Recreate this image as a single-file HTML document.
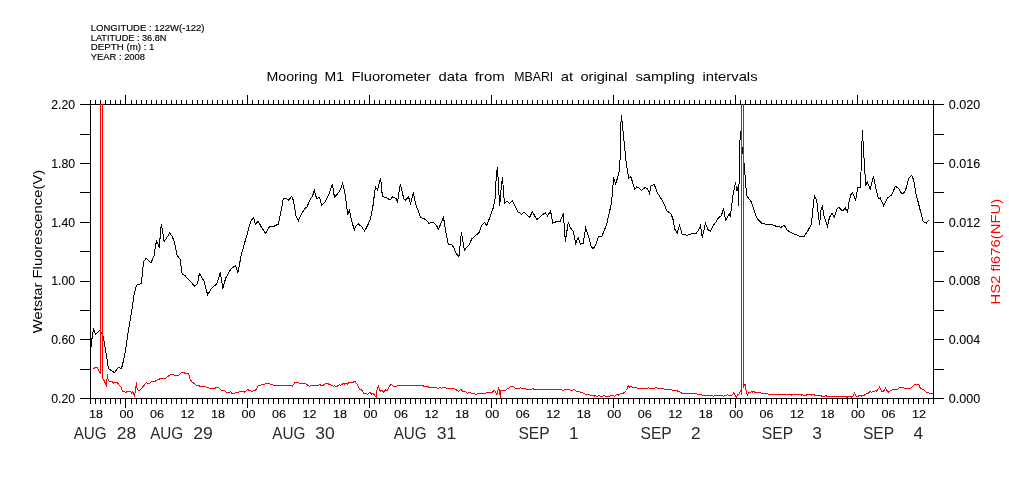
<!DOCTYPE html>
<html><head><meta charset="utf-8"><title>Mooring M1 Fluorometer data</title>
<style>html,body{margin:0;padding:0;background:#fff}svg{display:block}text{font-family:"Liberation Sans",sans-serif;}</style></head><body>
<svg width="1009" height="504" viewBox="0 0 1009 504">
<rect x="0" y="0" width="1009" height="504" fill="#fff"/>
<g shape-rendering="crispEdges">
<polyline points="91.0,347.9 91.5,339.7 92.3,337.8 93.4,328.3 95.5,334.1 100.1,330.2 103.3,336.5 108.5,368.6 114.4,372.7 118.3,367.5 121.5,368.6 124.7,355.6 127.9,334.1 133.4,300.0 134.3,293.3 136.7,285.0 141.4,283.4 143.5,261.5 146.2,258.3 151.0,262.8 154.1,256.0 155.6,245.2 156.6,241.2 159.4,247.5 160.6,230.1 161.3,224.1 162.5,230.9 164.1,241.6 169.7,233.1 172.1,236.4 174.4,241.6 177.1,255.2 180.0,259.1 182.2,274.2 185.1,275.8 189.8,280.9 194.6,286.1 197.5,283.7 199.4,273.4 204.1,281.3 207.6,294.8 211.3,288.5 216.8,284.0 220.3,272.6 222.9,288.8 225.6,278.2 231.1,268.7 235.6,265.5 237.8,272.9 241.4,254.4 245.4,240.1 247.5,233.3 250.6,221.3 253.5,217.4 255.4,224.0 258.3,221.3 261.7,227.7 265.7,233.3 268.1,228.5 270.5,226.1 274.4,226.1 278.4,224.0 280.8,212.6 283.2,198.7 286.3,198.3 288.7,200.2 291.6,196.4 293.5,200.7 295.9,215.8 298.3,220.9 301.4,214.2 304.6,208.7 307.0,207.1 309.4,200.7 312.5,196.0 314.4,190.4 316.5,198.3 319.7,197.5 321.7,205.5 325.2,201.8 329.2,193.6 332.4,183.7 334.4,197.1 339.5,191.7 342.7,183.3 344.6,191.2 346.7,206.3 347.8,215.0 349.4,209.4 351.4,219.8 354.3,230.1 356.2,225.3 358.6,224.0 361.7,226.9 364.6,230.9 367.3,226.1 370.5,219.0 372.9,206.3 374.8,191.2 375.7,187.2 377.6,190.1 380.3,178.5 381.1,182.5 382.4,196.7 386.3,197.5 390.0,200.2 392.7,196.7 395.9,198.3 397.5,201.9 400.3,184.4 403.8,198.7 405.4,200.3 408.6,197.1 410.6,203.8 413.3,192.4 415.7,204.6 418.1,210.2 420.5,217.3 426.0,219.7 428.9,223.2 433.2,222.1 436.3,225.2 438.4,229.2 443.5,217.3 445.9,232.4 448.3,244.3 451.4,244.3 453.8,247.5 456.2,253.8 459.0,256.5 461.4,232.4 464.4,250.6 466.5,247.5 468.9,245.4 471.7,239.0 475.2,235.9 479.2,232.4 481.6,225.2 484.4,222.5 486.7,225.2 490.3,216.5 493.5,207.0 495.6,195.9 496.2,175.4 497.5,167.1 498.7,189.7 499.7,205.6 501.0,189.7 502.5,177.0 503.8,196.0 504.6,203.2 507.0,201.1 509.4,203.2 512.5,201.1 515.2,206.3 518.1,211.9 521.6,214.3 524.4,212.2 529.5,217.5 532.4,211.6 536.8,219.8 541.1,215.9 545.1,212.7 547.5,215.9 550.6,211.1 552.7,223.3 556.2,221.7 560.2,221.1 563.3,213.5 565.4,241.6 568.3,221.7 570.2,227.3 573.3,231.6 575.7,243.2 578.1,237.6 580.5,244.0 583.2,243.2 585.7,228.4 588.4,236.0 591.1,246.3 593.2,248.7 595.6,244.8 598.4,236.8 601.6,236.8 604.3,230.5 607.0,223.3 609.0,213.8 611.4,203.5 612.7,190.0 613.5,177.5 615.7,183.8 618.9,173.5 620.2,157.6 620.6,129.0 621.4,115.1 622.5,125.9 624.1,141.7 626.5,165.6 628.9,178.3 631.0,176.7 632.9,183.8 634.8,189.4 636.7,186.7 639.0,187.8 641.4,190.5 645.4,187.3 647.8,189.4 649.5,193.3 651.0,186.2 654.1,184.1 657.3,192.5 663.7,202.9 666.8,211.1 670.5,213.2 672.7,217.9 674.8,229.0 677.1,233.3 679.5,225.4 682.2,234.3 687.5,235.4 692.2,233.3 695.9,233.8 698.6,229.8 700.6,225.4 702.2,237.5 705.4,223.5 708.1,229.8 710.5,231.1 712.9,225.9 716.0,221.9 718.7,217.5 721.3,215.9 723.5,208.4 725.6,220.3 729.2,214.0 730.3,217.1 732.7,196.8 735.6,182.2 736.7,191.0 737.8,187.0 738.7,206.0 739.5,149.8 740.5,130.9 741.2,143.8 742.4,148.8 743.8,160.7 745.4,179.5 746.6,195.4 751.4,202.0 753.3,207.6 755.7,215.6 758.1,219.5 761.6,223.2 766.8,224.3 772.4,224.8 777.1,226.6 781.1,227.2 784.3,225.3 787.1,230.1 791.4,232.9 795.4,234.5 800.2,236.4 804.1,236.4 807.3,231.7 811.3,224.5 812.9,209.4 814.4,195.5 816.8,200.7 817.9,211.0 819.5,224.5 821.1,209.4 822.4,206.3 824.0,215.8 827.5,226.1 829.5,217.4 831.9,213.4 834.3,217.1 836.7,209.4 839.0,207.1 842.2,211.0 845.4,208.2 847.5,212.3 849.4,199.9 851.0,194.4 852.5,192.8 855.7,200.2 857.6,188.0 860.5,187.2 861.0,172.1 862.4,129.8 864.0,157.9 865.2,177.0 865.6,186.4 867.1,181.7 870.3,189.1 873.5,176.4 875.6,187.2 878.3,198.3 880.3,198.0 883.5,205.5 887.5,198.0 891.4,195.2 895.4,186.4 898.3,188.0 901.7,193.6 904.1,192.8 906.2,188.0 908.4,179.0 911.6,175.3 913.7,180.1 916.0,193.6 920.0,209.4 923.2,221.3 926.3,223.4 928.7,219.8" fill="none" stroke="#000" stroke-width="1" />
<polyline points="93.1,368.8 95.1,367.6 97.5,367.9 100.5,373.8 100.5,104.0" fill="none" stroke="#f00" stroke-width="1" />
<polyline points="102.5,104.0 102.6,378.6 104.6,381.5 106.4,385.5 107.4,374.4 108.2,379.8 110.0,381.9 111.4,381.2 113.6,383.1 115.4,382.1 117.1,382.1 119.5,385.7 121.3,387.5 122.5,391.1 125.5,392.3 128.5,391.4 130.8,391.4 131.7,393.5 132.6,391.7 134.4,395.5 135.6,391.1 136.4,382.1 137.1,388.7 138.6,390.7 140.4,389.9 143.3,386.3 146.3,382.4 148.1,383.6 149.9,383.3 151.7,381.5 155.2,381.2 157.6,379.5 161.2,378.6 166.0,378.0 169.5,375.2 171.9,374.4 174.9,375.4 178.5,375.2 180.8,373.2 183.2,372.0 185.6,373.8 188.6,373.2 189.8,378.6 192.1,382.1 196.3,385.1 200.5,386.3 205.4,386.3 206.5,387.5 208.3,387.5 209.5,388.5 214.9,388.5 216.1,387.1 218.5,387.1 221.4,390.5 224.4,390.5 226.8,392.5 229.2,392.5 230.4,391.4 232.1,393.5 234.5,393.5 235.7,392.5 238.7,392.5 239.9,391.4 244.0,391.4 245.0,392.3 247.6,389.3 248.8,390.5 250.6,390.5 251.8,391.4 255.4,390.5 258.3,385.5 260.7,385.5 261.9,384.5 264.3,384.5 265.2,383.6 269.0,383.6 270.8,384.5 272.6,384.5 273.8,385.5 291.1,385.5 292.3,386.3 295.2,382.4 298.2,382.4 300.0,383.6 305.4,383.6 308.3,385.5 309.5,386.3 310.7,385.5 318.5,385.5 320.0,384.5 321.0,385.5 322.7,385.5 325.7,383.3 327.5,383.3 329.3,384.5 332.3,385.5 333.5,386.3 334.6,385.5 335.2,386.3 337.0,386.3 339.4,384.5 340.6,385.5 343.6,383.3 344.8,384.3 346.5,383.3 347.7,384.3 348.9,382.4 351.9,382.4 352.9,383.1 353.7,381.3 354.9,381.3 357.9,385.5 359.6,389.3 361.4,389.5 363.8,393.1 366.8,393.5 367.6,394.4 369.8,392.3 371.5,394.0 373.3,393.5 375.7,397.0 376.7,397.4 377.1,388.1 378.3,386.3 380.2,391.1 382.3,390.5 383.5,392.3 385.8,389.5 387.0,391.1 389.4,386.3 391.4,384.3 393.3,386.3 396.5,386.3 397.4,385.5 422.7,385.5 423.9,386.3 426.3,386.9 427.5,386.3 429.3,387.5 435.0,387.5 436.5,387.5 438.1,388.5 440.1,387.5 441.3,388.5 442.5,387.5 445.5,387.5 446.7,388.5 454.4,388.5 458.6,391.4 461.0,389.3 462.7,391.1 465.1,391.4 467.5,393.5 468.7,392.3 470.5,392.3 471.7,393.5 474.0,393.5 475.8,394.6 477.6,393.5 485.4,393.5 487.1,392.3 490.7,392.3 491.9,393.1 493.7,390.5 494.9,390.5 496.7,394.6 498.5,388.3 499.6,390.5 500.2,397.6 500.8,390.5 505.0,390.5 508.6,388.1 511.0,386.3 513.3,386.3 515.7,388.5 519.3,388.5 520.5,387.5 521.7,388.5 525.2,388.5 527.0,389.5 531.2,389.5 533.0,388.5 534.2,389.5 550.0,389.5 561.7,389.5 562.9,390.5 564.6,389.5 569.4,389.5 570.6,390.5 572.4,390.5 574.2,389.3 576.5,391.4 579.5,391.4 580.7,392.3 582.5,392.5 585.5,394.4 589.6,394.4 590.8,395.5 593.8,395.5 594.8,396.2 595.6,395.5 596.8,396.4 599.2,395.5 601.0,396.4 602.7,396.2 603.9,395.5 605.7,396.4 609.3,396.4 611.1,395.5 613.5,395.5 614.6,396.2 617.0,394.4 618.2,395.2 620.6,393.5 622.4,393.5 624.8,392.3 626.5,390.5 627.4,388.1 628.3,385.5 629.3,387.1 630.7,386.3 632.5,387.5 636.7,387.5 637.9,388.5 647.4,388.5 648.6,387.5 649.8,388.5 654.5,388.5 656.0,387.5 657.5,388.5 663.5,388.5 665.0,389.5 671.3,389.5 672.5,390.5 676.7,390.5 677.9,391.4 679.6,391.4 682.0,393.5 696.3,393.5 697.5,394.4 701.1,394.4 702.3,395.5 712.4,395.5 713.6,396.2 714.8,395.5 722.5,395.5 723.7,396.2 724.9,395.5 726.7,395.5 727.6,394.4 728.5,395.5 731.4,395.5 733.6,393.1 735.2,395.2 736.4,397.4 738.0,394.6 738.8,394.6 741.0,390.5 741.5,394.6 741.5,104.0" fill="none" stroke="#f00" stroke-width="1" />
<polyline points="743.5,104.0 743.6,386.9 745.1,384.5 746.3,391.7 747.5,395.2 748.7,392.3 749.9,393.1 751.7,391.4 752.9,392.3 754.0,391.4 755.2,392.5 760.6,392.5 761.8,393.5 767.1,393.5 768.9,394.4 790.5,394.4 791.7,395.2 792.9,394.4 800.6,394.4 801.8,395.2 802.6,394.4 803.6,395.5 806.0,395.5 807.1,394.4 810.7,394.4 811.9,395.2 813.1,394.4 814.9,395.2 820.2,395.2 822.0,396.4 824.4,396.4 825.6,395.2 826.8,396.4 845.8,396.4 847.0,397.4 848.2,396.4 850.0,396.4 851.2,397.4 853.0,395.8 854.5,393.1 856.2,396.2 858.3,396.2 860.1,395.0 861.3,396.2 863.1,395.2 864.5,395.2 866.7,393.1 868.5,393.1 870.2,391.3 871.4,392.3 873.2,391.1 874.4,391.7 875.6,390.2 876.8,391.1 879.5,387.1 881.5,391.4 883.3,391.4 885.5,388.3 888.1,392.3 891.1,390.5 893.2,389.3 897.9,389.3 899.7,387.5 903.3,387.5 904.5,388.7 910.4,388.3 912.2,387.1 914.6,384.3 918.8,384.3 920.5,388.7 923.5,389.5 926.5,392.3 930.1,393.5 933.6,394.0" fill="none" stroke="#f00" stroke-width="1" />
<rect x="90" y="104" width="844" height="1" fill="#000"/>
<rect x="90" y="398" width="844" height="1" fill="#000"/>
<rect x="90" y="104" width="1" height="295" fill="#000"/>
<rect x="933" y="104" width="1" height="295" fill="#000"/>
<rect x="90" y="100" width="1" height="4" fill="#000"/>
<rect x="90" y="399" width="1" height="5" fill="#000"/>
<rect x="95" y="100" width="1" height="4" fill="#000"/>
<rect x="95" y="399" width="1" height="5" fill="#000"/>
<rect x="100" y="100" width="1" height="4" fill="#000"/>
<rect x="100" y="399" width="1" height="5" fill="#000"/>
<rect x="105" y="100" width="1" height="4" fill="#000"/>
<rect x="105" y="399" width="1" height="5" fill="#000"/>
<rect x="110" y="100" width="1" height="4" fill="#000"/>
<rect x="110" y="399" width="1" height="5" fill="#000"/>
<rect x="115" y="100" width="1" height="4" fill="#000"/>
<rect x="115" y="399" width="1" height="5" fill="#000"/>
<rect x="120" y="100" width="1" height="4" fill="#000"/>
<rect x="120" y="399" width="1" height="5" fill="#000"/>
<rect x="125" y="95" width="1" height="9" fill="#000"/>
<rect x="125" y="399" width="1" height="9" fill="#000"/>
<rect x="131" y="100" width="1" height="4" fill="#000"/>
<rect x="131" y="399" width="1" height="5" fill="#000"/>
<rect x="136" y="100" width="1" height="4" fill="#000"/>
<rect x="136" y="399" width="1" height="5" fill="#000"/>
<rect x="141" y="100" width="1" height="4" fill="#000"/>
<rect x="141" y="399" width="1" height="5" fill="#000"/>
<rect x="146" y="100" width="1" height="4" fill="#000"/>
<rect x="146" y="399" width="1" height="5" fill="#000"/>
<rect x="151" y="100" width="1" height="4" fill="#000"/>
<rect x="151" y="399" width="1" height="5" fill="#000"/>
<rect x="156" y="100" width="1" height="4" fill="#000"/>
<rect x="156" y="399" width="1" height="5" fill="#000"/>
<rect x="161" y="100" width="1" height="4" fill="#000"/>
<rect x="161" y="399" width="1" height="5" fill="#000"/>
<rect x="166" y="100" width="1" height="4" fill="#000"/>
<rect x="166" y="399" width="1" height="5" fill="#000"/>
<rect x="171" y="100" width="1" height="4" fill="#000"/>
<rect x="171" y="399" width="1" height="5" fill="#000"/>
<rect x="176" y="100" width="1" height="4" fill="#000"/>
<rect x="176" y="399" width="1" height="5" fill="#000"/>
<rect x="181" y="100" width="1" height="4" fill="#000"/>
<rect x="181" y="399" width="1" height="5" fill="#000"/>
<rect x="186" y="100" width="1" height="4" fill="#000"/>
<rect x="186" y="399" width="1" height="5" fill="#000"/>
<rect x="192" y="100" width="1" height="4" fill="#000"/>
<rect x="192" y="399" width="1" height="5" fill="#000"/>
<rect x="197" y="100" width="1" height="4" fill="#000"/>
<rect x="197" y="399" width="1" height="5" fill="#000"/>
<rect x="202" y="100" width="1" height="4" fill="#000"/>
<rect x="202" y="399" width="1" height="5" fill="#000"/>
<rect x="207" y="100" width="1" height="4" fill="#000"/>
<rect x="207" y="399" width="1" height="5" fill="#000"/>
<rect x="212" y="100" width="1" height="4" fill="#000"/>
<rect x="212" y="399" width="1" height="5" fill="#000"/>
<rect x="217" y="100" width="1" height="4" fill="#000"/>
<rect x="217" y="399" width="1" height="5" fill="#000"/>
<rect x="222" y="100" width="1" height="4" fill="#000"/>
<rect x="222" y="399" width="1" height="5" fill="#000"/>
<rect x="227" y="100" width="1" height="4" fill="#000"/>
<rect x="227" y="399" width="1" height="5" fill="#000"/>
<rect x="232" y="100" width="1" height="4" fill="#000"/>
<rect x="232" y="399" width="1" height="5" fill="#000"/>
<rect x="237" y="100" width="1" height="4" fill="#000"/>
<rect x="237" y="399" width="1" height="5" fill="#000"/>
<rect x="242" y="100" width="1" height="4" fill="#000"/>
<rect x="242" y="399" width="1" height="5" fill="#000"/>
<rect x="247" y="95" width="1" height="9" fill="#000"/>
<rect x="247" y="399" width="1" height="9" fill="#000"/>
<rect x="252" y="100" width="1" height="4" fill="#000"/>
<rect x="252" y="399" width="1" height="5" fill="#000"/>
<rect x="258" y="100" width="1" height="4" fill="#000"/>
<rect x="258" y="399" width="1" height="5" fill="#000"/>
<rect x="263" y="100" width="1" height="4" fill="#000"/>
<rect x="263" y="399" width="1" height="5" fill="#000"/>
<rect x="268" y="100" width="1" height="4" fill="#000"/>
<rect x="268" y="399" width="1" height="5" fill="#000"/>
<rect x="273" y="100" width="1" height="4" fill="#000"/>
<rect x="273" y="399" width="1" height="5" fill="#000"/>
<rect x="278" y="100" width="1" height="4" fill="#000"/>
<rect x="278" y="399" width="1" height="5" fill="#000"/>
<rect x="283" y="100" width="1" height="4" fill="#000"/>
<rect x="283" y="399" width="1" height="5" fill="#000"/>
<rect x="288" y="100" width="1" height="4" fill="#000"/>
<rect x="288" y="399" width="1" height="5" fill="#000"/>
<rect x="293" y="100" width="1" height="4" fill="#000"/>
<rect x="293" y="399" width="1" height="5" fill="#000"/>
<rect x="298" y="100" width="1" height="4" fill="#000"/>
<rect x="298" y="399" width="1" height="5" fill="#000"/>
<rect x="303" y="100" width="1" height="4" fill="#000"/>
<rect x="303" y="399" width="1" height="5" fill="#000"/>
<rect x="308" y="100" width="1" height="4" fill="#000"/>
<rect x="308" y="399" width="1" height="5" fill="#000"/>
<rect x="313" y="100" width="1" height="4" fill="#000"/>
<rect x="313" y="399" width="1" height="5" fill="#000"/>
<rect x="319" y="100" width="1" height="4" fill="#000"/>
<rect x="319" y="399" width="1" height="5" fill="#000"/>
<rect x="324" y="100" width="1" height="4" fill="#000"/>
<rect x="324" y="399" width="1" height="5" fill="#000"/>
<rect x="329" y="100" width="1" height="4" fill="#000"/>
<rect x="329" y="399" width="1" height="5" fill="#000"/>
<rect x="334" y="100" width="1" height="4" fill="#000"/>
<rect x="334" y="399" width="1" height="5" fill="#000"/>
<rect x="339" y="100" width="1" height="4" fill="#000"/>
<rect x="339" y="399" width="1" height="5" fill="#000"/>
<rect x="344" y="100" width="1" height="4" fill="#000"/>
<rect x="344" y="399" width="1" height="5" fill="#000"/>
<rect x="349" y="100" width="1" height="4" fill="#000"/>
<rect x="349" y="399" width="1" height="5" fill="#000"/>
<rect x="354" y="100" width="1" height="4" fill="#000"/>
<rect x="354" y="399" width="1" height="5" fill="#000"/>
<rect x="359" y="100" width="1" height="4" fill="#000"/>
<rect x="359" y="399" width="1" height="5" fill="#000"/>
<rect x="364" y="100" width="1" height="4" fill="#000"/>
<rect x="364" y="399" width="1" height="5" fill="#000"/>
<rect x="369" y="95" width="1" height="9" fill="#000"/>
<rect x="369" y="399" width="1" height="9" fill="#000"/>
<rect x="374" y="100" width="1" height="4" fill="#000"/>
<rect x="374" y="399" width="1" height="5" fill="#000"/>
<rect x="379" y="100" width="1" height="4" fill="#000"/>
<rect x="379" y="399" width="1" height="5" fill="#000"/>
<rect x="385" y="100" width="1" height="4" fill="#000"/>
<rect x="385" y="399" width="1" height="5" fill="#000"/>
<rect x="390" y="100" width="1" height="4" fill="#000"/>
<rect x="390" y="399" width="1" height="5" fill="#000"/>
<rect x="395" y="100" width="1" height="4" fill="#000"/>
<rect x="395" y="399" width="1" height="5" fill="#000"/>
<rect x="400" y="100" width="1" height="4" fill="#000"/>
<rect x="400" y="399" width="1" height="5" fill="#000"/>
<rect x="405" y="100" width="1" height="4" fill="#000"/>
<rect x="405" y="399" width="1" height="5" fill="#000"/>
<rect x="410" y="100" width="1" height="4" fill="#000"/>
<rect x="410" y="399" width="1" height="5" fill="#000"/>
<rect x="415" y="100" width="1" height="4" fill="#000"/>
<rect x="415" y="399" width="1" height="5" fill="#000"/>
<rect x="420" y="100" width="1" height="4" fill="#000"/>
<rect x="420" y="399" width="1" height="5" fill="#000"/>
<rect x="425" y="100" width="1" height="4" fill="#000"/>
<rect x="425" y="399" width="1" height="5" fill="#000"/>
<rect x="430" y="100" width="1" height="4" fill="#000"/>
<rect x="430" y="399" width="1" height="5" fill="#000"/>
<rect x="435" y="100" width="1" height="4" fill="#000"/>
<rect x="435" y="399" width="1" height="5" fill="#000"/>
<rect x="440" y="100" width="1" height="4" fill="#000"/>
<rect x="440" y="399" width="1" height="5" fill="#000"/>
<rect x="446" y="100" width="1" height="4" fill="#000"/>
<rect x="446" y="399" width="1" height="5" fill="#000"/>
<rect x="451" y="100" width="1" height="4" fill="#000"/>
<rect x="451" y="399" width="1" height="5" fill="#000"/>
<rect x="456" y="100" width="1" height="4" fill="#000"/>
<rect x="456" y="399" width="1" height="5" fill="#000"/>
<rect x="461" y="100" width="1" height="4" fill="#000"/>
<rect x="461" y="399" width="1" height="5" fill="#000"/>
<rect x="466" y="100" width="1" height="4" fill="#000"/>
<rect x="466" y="399" width="1" height="5" fill="#000"/>
<rect x="471" y="100" width="1" height="4" fill="#000"/>
<rect x="471" y="399" width="1" height="5" fill="#000"/>
<rect x="476" y="100" width="1" height="4" fill="#000"/>
<rect x="476" y="399" width="1" height="5" fill="#000"/>
<rect x="481" y="100" width="1" height="4" fill="#000"/>
<rect x="481" y="399" width="1" height="5" fill="#000"/>
<rect x="486" y="100" width="1" height="4" fill="#000"/>
<rect x="486" y="399" width="1" height="5" fill="#000"/>
<rect x="491" y="95" width="1" height="9" fill="#000"/>
<rect x="491" y="399" width="1" height="9" fill="#000"/>
<rect x="496" y="100" width="1" height="4" fill="#000"/>
<rect x="496" y="399" width="1" height="5" fill="#000"/>
<rect x="501" y="100" width="1" height="4" fill="#000"/>
<rect x="501" y="399" width="1" height="5" fill="#000"/>
<rect x="506" y="100" width="1" height="4" fill="#000"/>
<rect x="506" y="399" width="1" height="5" fill="#000"/>
<rect x="512" y="100" width="1" height="4" fill="#000"/>
<rect x="512" y="399" width="1" height="5" fill="#000"/>
<rect x="517" y="100" width="1" height="4" fill="#000"/>
<rect x="517" y="399" width="1" height="5" fill="#000"/>
<rect x="522" y="100" width="1" height="4" fill="#000"/>
<rect x="522" y="399" width="1" height="5" fill="#000"/>
<rect x="527" y="100" width="1" height="4" fill="#000"/>
<rect x="527" y="399" width="1" height="5" fill="#000"/>
<rect x="532" y="100" width="1" height="4" fill="#000"/>
<rect x="532" y="399" width="1" height="5" fill="#000"/>
<rect x="537" y="100" width="1" height="4" fill="#000"/>
<rect x="537" y="399" width="1" height="5" fill="#000"/>
<rect x="542" y="100" width="1" height="4" fill="#000"/>
<rect x="542" y="399" width="1" height="5" fill="#000"/>
<rect x="547" y="100" width="1" height="4" fill="#000"/>
<rect x="547" y="399" width="1" height="5" fill="#000"/>
<rect x="552" y="100" width="1" height="4" fill="#000"/>
<rect x="552" y="399" width="1" height="5" fill="#000"/>
<rect x="557" y="100" width="1" height="4" fill="#000"/>
<rect x="557" y="399" width="1" height="5" fill="#000"/>
<rect x="562" y="100" width="1" height="4" fill="#000"/>
<rect x="562" y="399" width="1" height="5" fill="#000"/>
<rect x="567" y="100" width="1" height="4" fill="#000"/>
<rect x="567" y="399" width="1" height="5" fill="#000"/>
<rect x="572" y="100" width="1" height="4" fill="#000"/>
<rect x="572" y="399" width="1" height="5" fill="#000"/>
<rect x="578" y="100" width="1" height="4" fill="#000"/>
<rect x="578" y="399" width="1" height="5" fill="#000"/>
<rect x="583" y="100" width="1" height="4" fill="#000"/>
<rect x="583" y="399" width="1" height="5" fill="#000"/>
<rect x="588" y="100" width="1" height="4" fill="#000"/>
<rect x="588" y="399" width="1" height="5" fill="#000"/>
<rect x="593" y="100" width="1" height="4" fill="#000"/>
<rect x="593" y="399" width="1" height="5" fill="#000"/>
<rect x="598" y="100" width="1" height="4" fill="#000"/>
<rect x="598" y="399" width="1" height="5" fill="#000"/>
<rect x="603" y="100" width="1" height="4" fill="#000"/>
<rect x="603" y="399" width="1" height="5" fill="#000"/>
<rect x="608" y="100" width="1" height="4" fill="#000"/>
<rect x="608" y="399" width="1" height="5" fill="#000"/>
<rect x="613" y="95" width="1" height="9" fill="#000"/>
<rect x="613" y="399" width="1" height="9" fill="#000"/>
<rect x="618" y="100" width="1" height="4" fill="#000"/>
<rect x="618" y="399" width="1" height="5" fill="#000"/>
<rect x="623" y="100" width="1" height="4" fill="#000"/>
<rect x="623" y="399" width="1" height="5" fill="#000"/>
<rect x="628" y="100" width="1" height="4" fill="#000"/>
<rect x="628" y="399" width="1" height="5" fill="#000"/>
<rect x="633" y="100" width="1" height="4" fill="#000"/>
<rect x="633" y="399" width="1" height="5" fill="#000"/>
<rect x="639" y="100" width="1" height="4" fill="#000"/>
<rect x="639" y="399" width="1" height="5" fill="#000"/>
<rect x="644" y="100" width="1" height="4" fill="#000"/>
<rect x="644" y="399" width="1" height="5" fill="#000"/>
<rect x="649" y="100" width="1" height="4" fill="#000"/>
<rect x="649" y="399" width="1" height="5" fill="#000"/>
<rect x="654" y="100" width="1" height="4" fill="#000"/>
<rect x="654" y="399" width="1" height="5" fill="#000"/>
<rect x="659" y="100" width="1" height="4" fill="#000"/>
<rect x="659" y="399" width="1" height="5" fill="#000"/>
<rect x="664" y="100" width="1" height="4" fill="#000"/>
<rect x="664" y="399" width="1" height="5" fill="#000"/>
<rect x="669" y="100" width="1" height="4" fill="#000"/>
<rect x="669" y="399" width="1" height="5" fill="#000"/>
<rect x="674" y="100" width="1" height="4" fill="#000"/>
<rect x="674" y="399" width="1" height="5" fill="#000"/>
<rect x="679" y="100" width="1" height="4" fill="#000"/>
<rect x="679" y="399" width="1" height="5" fill="#000"/>
<rect x="684" y="100" width="1" height="4" fill="#000"/>
<rect x="684" y="399" width="1" height="5" fill="#000"/>
<rect x="689" y="100" width="1" height="4" fill="#000"/>
<rect x="689" y="399" width="1" height="5" fill="#000"/>
<rect x="694" y="100" width="1" height="4" fill="#000"/>
<rect x="694" y="399" width="1" height="5" fill="#000"/>
<rect x="699" y="100" width="1" height="4" fill="#000"/>
<rect x="699" y="399" width="1" height="5" fill="#000"/>
<rect x="705" y="100" width="1" height="4" fill="#000"/>
<rect x="705" y="399" width="1" height="5" fill="#000"/>
<rect x="710" y="100" width="1" height="4" fill="#000"/>
<rect x="710" y="399" width="1" height="5" fill="#000"/>
<rect x="715" y="100" width="1" height="4" fill="#000"/>
<rect x="715" y="399" width="1" height="5" fill="#000"/>
<rect x="720" y="100" width="1" height="4" fill="#000"/>
<rect x="720" y="399" width="1" height="5" fill="#000"/>
<rect x="725" y="100" width="1" height="4" fill="#000"/>
<rect x="725" y="399" width="1" height="5" fill="#000"/>
<rect x="730" y="100" width="1" height="4" fill="#000"/>
<rect x="730" y="399" width="1" height="5" fill="#000"/>
<rect x="735" y="95" width="1" height="9" fill="#000"/>
<rect x="735" y="399" width="1" height="9" fill="#000"/>
<rect x="740" y="100" width="1" height="4" fill="#000"/>
<rect x="740" y="399" width="1" height="5" fill="#000"/>
<rect x="745" y="100" width="1" height="4" fill="#000"/>
<rect x="745" y="399" width="1" height="5" fill="#000"/>
<rect x="750" y="100" width="1" height="4" fill="#000"/>
<rect x="750" y="399" width="1" height="5" fill="#000"/>
<rect x="755" y="100" width="1" height="4" fill="#000"/>
<rect x="755" y="399" width="1" height="5" fill="#000"/>
<rect x="760" y="100" width="1" height="4" fill="#000"/>
<rect x="760" y="399" width="1" height="5" fill="#000"/>
<rect x="766" y="100" width="1" height="4" fill="#000"/>
<rect x="766" y="399" width="1" height="5" fill="#000"/>
<rect x="771" y="100" width="1" height="4" fill="#000"/>
<rect x="771" y="399" width="1" height="5" fill="#000"/>
<rect x="776" y="100" width="1" height="4" fill="#000"/>
<rect x="776" y="399" width="1" height="5" fill="#000"/>
<rect x="781" y="100" width="1" height="4" fill="#000"/>
<rect x="781" y="399" width="1" height="5" fill="#000"/>
<rect x="786" y="100" width="1" height="4" fill="#000"/>
<rect x="786" y="399" width="1" height="5" fill="#000"/>
<rect x="791" y="100" width="1" height="4" fill="#000"/>
<rect x="791" y="399" width="1" height="5" fill="#000"/>
<rect x="796" y="100" width="1" height="4" fill="#000"/>
<rect x="796" y="399" width="1" height="5" fill="#000"/>
<rect x="801" y="100" width="1" height="4" fill="#000"/>
<rect x="801" y="399" width="1" height="5" fill="#000"/>
<rect x="806" y="100" width="1" height="4" fill="#000"/>
<rect x="806" y="399" width="1" height="5" fill="#000"/>
<rect x="811" y="100" width="1" height="4" fill="#000"/>
<rect x="811" y="399" width="1" height="5" fill="#000"/>
<rect x="816" y="100" width="1" height="4" fill="#000"/>
<rect x="816" y="399" width="1" height="5" fill="#000"/>
<rect x="821" y="100" width="1" height="4" fill="#000"/>
<rect x="821" y="399" width="1" height="5" fill="#000"/>
<rect x="826" y="100" width="1" height="4" fill="#000"/>
<rect x="826" y="399" width="1" height="5" fill="#000"/>
<rect x="832" y="100" width="1" height="4" fill="#000"/>
<rect x="832" y="399" width="1" height="5" fill="#000"/>
<rect x="837" y="100" width="1" height="4" fill="#000"/>
<rect x="837" y="399" width="1" height="5" fill="#000"/>
<rect x="842" y="100" width="1" height="4" fill="#000"/>
<rect x="842" y="399" width="1" height="5" fill="#000"/>
<rect x="847" y="100" width="1" height="4" fill="#000"/>
<rect x="847" y="399" width="1" height="5" fill="#000"/>
<rect x="852" y="100" width="1" height="4" fill="#000"/>
<rect x="852" y="399" width="1" height="5" fill="#000"/>
<rect x="857" y="95" width="1" height="9" fill="#000"/>
<rect x="857" y="399" width="1" height="9" fill="#000"/>
<rect x="862" y="100" width="1" height="4" fill="#000"/>
<rect x="862" y="399" width="1" height="5" fill="#000"/>
<rect x="867" y="100" width="1" height="4" fill="#000"/>
<rect x="867" y="399" width="1" height="5" fill="#000"/>
<rect x="872" y="100" width="1" height="4" fill="#000"/>
<rect x="872" y="399" width="1" height="5" fill="#000"/>
<rect x="877" y="100" width="1" height="4" fill="#000"/>
<rect x="877" y="399" width="1" height="5" fill="#000"/>
<rect x="882" y="100" width="1" height="4" fill="#000"/>
<rect x="882" y="399" width="1" height="5" fill="#000"/>
<rect x="887" y="100" width="1" height="4" fill="#000"/>
<rect x="887" y="399" width="1" height="5" fill="#000"/>
<rect x="893" y="100" width="1" height="4" fill="#000"/>
<rect x="893" y="399" width="1" height="5" fill="#000"/>
<rect x="898" y="100" width="1" height="4" fill="#000"/>
<rect x="898" y="399" width="1" height="5" fill="#000"/>
<rect x="903" y="100" width="1" height="4" fill="#000"/>
<rect x="903" y="399" width="1" height="5" fill="#000"/>
<rect x="908" y="100" width="1" height="4" fill="#000"/>
<rect x="908" y="399" width="1" height="5" fill="#000"/>
<rect x="913" y="100" width="1" height="4" fill="#000"/>
<rect x="913" y="399" width="1" height="5" fill="#000"/>
<rect x="918" y="100" width="1" height="4" fill="#000"/>
<rect x="918" y="399" width="1" height="5" fill="#000"/>
<rect x="923" y="100" width="1" height="4" fill="#000"/>
<rect x="923" y="399" width="1" height="5" fill="#000"/>
<rect x="928" y="100" width="1" height="4" fill="#000"/>
<rect x="928" y="399" width="1" height="5" fill="#000"/>
<rect x="933" y="100" width="1" height="4" fill="#000"/>
<rect x="933" y="399" width="1" height="5" fill="#000"/>
<rect x="80" y="104" width="10" height="1" fill="#000"/>
<rect x="934" y="104" width="10" height="1" fill="#000"/>
<rect x="80" y="134" width="10" height="1" fill="#000"/>
<rect x="934" y="134" width="10" height="1" fill="#000"/>
<rect x="80" y="163" width="10" height="1" fill="#000"/>
<rect x="934" y="163" width="10" height="1" fill="#000"/>
<rect x="80" y="192" width="10" height="1" fill="#000"/>
<rect x="934" y="192" width="10" height="1" fill="#000"/>
<rect x="80" y="222" width="10" height="1" fill="#000"/>
<rect x="934" y="222" width="10" height="1" fill="#000"/>
<rect x="80" y="251" width="10" height="1" fill="#000"/>
<rect x="934" y="251" width="10" height="1" fill="#000"/>
<rect x="80" y="281" width="10" height="1" fill="#000"/>
<rect x="934" y="281" width="10" height="1" fill="#000"/>
<rect x="80" y="310" width="10" height="1" fill="#000"/>
<rect x="934" y="310" width="10" height="1" fill="#000"/>
<rect x="80" y="339" width="10" height="1" fill="#000"/>
<rect x="934" y="339" width="10" height="1" fill="#000"/>
<rect x="80" y="369" width="10" height="1" fill="#000"/>
<rect x="934" y="369" width="10" height="1" fill="#000"/>
<rect x="80" y="398" width="10" height="1" fill="#000"/>
<rect x="934" y="398" width="10" height="1" fill="#000"/>
</g>
<g shape-rendering="crispEdges"><rect x="100" y="104" width="1" height="1" fill="#f00"/><rect x="102" y="104" width="1" height="1" fill="#f00"/><rect x="741" y="104" width="1" height="1" fill="#f00"/><rect x="743" y="104" width="1" height="1" fill="#f00"/></g>
<text x="90.8" y="30.9" font-size="9" fill="#000" textLength="113.7" lengthAdjust="spacingAndGlyphs" stroke="#000" stroke-width="0.15">LONGITUDE : 122W(-122)</text>
<text x="90.8" y="40.7" font-size="9" fill="#000" textLength="75.6" lengthAdjust="spacingAndGlyphs" stroke="#000" stroke-width="0.15">LATITUDE : 36.8N</text>
<text x="90.8" y="50.3" font-size="9" fill="#000" textLength="63.7" lengthAdjust="spacingAndGlyphs" stroke="#000" stroke-width="0.15">DEPTH (m) : 1</text>
<text x="90.8" y="60.0" font-size="9" fill="#000" textLength="54.2" lengthAdjust="spacingAndGlyphs" stroke="#000" stroke-width="0.15">YEAR : 2008</text>
<text y="80.7" font-size="13" fill="#000"><tspan x="266.5" textLength="51.2" lengthAdjust="spacingAndGlyphs">Mooring</tspan> <tspan x="324.5" textLength="19.5" lengthAdjust="spacingAndGlyphs">M1</tspan> <tspan x="351.5" textLength="79.1" lengthAdjust="spacingAndGlyphs">Fluorometer</tspan> <tspan x="438.6" textLength="28.9" lengthAdjust="spacingAndGlyphs">data</tspan> <tspan x="474.7" textLength="30.1" lengthAdjust="spacingAndGlyphs">from</tspan> <tspan x="514.3" textLength="38.9" lengthAdjust="spacingAndGlyphs">MBARI</tspan> <tspan x="560.7" textLength="12.3" lengthAdjust="spacingAndGlyphs">at</tspan> <tspan x="580.5" textLength="46.9" lengthAdjust="spacingAndGlyphs">original</tspan> <tspan x="635.4" textLength="59.5" lengthAdjust="spacingAndGlyphs">sampling</tspan> <tspan x="702.4" textLength="55.2" lengthAdjust="spacingAndGlyphs">intervals</tspan></text>
<text x="51.2" y="109.0" font-size="12" fill="#000" textLength="23.8" lengthAdjust="spacingAndGlyphs" stroke="#000" stroke-width="0.08">2.20</text>
<text x="51.2" y="167.8" font-size="12" fill="#000" textLength="23.8" lengthAdjust="spacingAndGlyphs" stroke="#000" stroke-width="0.08">1.80</text>
<text x="51.2" y="226.6" font-size="12" fill="#000" textLength="23.8" lengthAdjust="spacingAndGlyphs" stroke="#000" stroke-width="0.08">1.40</text>
<text x="51.2" y="285.3" font-size="12" fill="#000" textLength="23.8" lengthAdjust="spacingAndGlyphs" stroke="#000" stroke-width="0.08">1.00</text>
<text x="51.2" y="344.1" font-size="12" fill="#000" textLength="23.8" lengthAdjust="spacingAndGlyphs" stroke="#000" stroke-width="0.08">0.60</text>
<text x="51.2" y="402.9" font-size="12" fill="#000" textLength="23.8" lengthAdjust="spacingAndGlyphs" stroke="#000" stroke-width="0.08">0.20</text>
<text x="948.8" y="109.0" font-size="12" fill="#000" textLength="31.4" lengthAdjust="spacingAndGlyphs" stroke="#000" stroke-width="0.08">0.020</text>
<text x="948.8" y="167.8" font-size="12" fill="#000" textLength="31.4" lengthAdjust="spacingAndGlyphs" stroke="#000" stroke-width="0.08">0.016</text>
<text x="948.8" y="226.6" font-size="12" fill="#000" textLength="31.4" lengthAdjust="spacingAndGlyphs" stroke="#000" stroke-width="0.08">0.012</text>
<text x="948.8" y="285.3" font-size="12" fill="#000" textLength="31.4" lengthAdjust="spacingAndGlyphs" stroke="#000" stroke-width="0.08">0.008</text>
<text x="948.8" y="344.1" font-size="12" fill="#000" textLength="31.4" lengthAdjust="spacingAndGlyphs" stroke="#000" stroke-width="0.08">0.004</text>
<text x="948.8" y="402.9" font-size="12" fill="#000" textLength="31.4" lengthAdjust="spacingAndGlyphs" stroke="#000" stroke-width="0.08">0.000</text>
<text x="89.1" y="418.1" font-size="11.3" fill="#000" textLength="14.0" lengthAdjust="spacingAndGlyphs" stroke="#000" stroke-width="0.1">18</text>
<text x="119.6" y="418.1" font-size="11.3" fill="#000" textLength="14.0" lengthAdjust="spacingAndGlyphs" stroke="#000" stroke-width="0.1">00</text>
<text x="150.1" y="418.1" font-size="11.3" fill="#000" textLength="14.0" lengthAdjust="spacingAndGlyphs" stroke="#000" stroke-width="0.1">06</text>
<text x="180.6" y="418.1" font-size="11.3" fill="#000" textLength="14.0" lengthAdjust="spacingAndGlyphs" stroke="#000" stroke-width="0.1">12</text>
<text x="211.0" y="418.1" font-size="11.3" fill="#000" textLength="14.0" lengthAdjust="spacingAndGlyphs" stroke="#000" stroke-width="0.1">18</text>
<text x="241.5" y="418.1" font-size="11.3" fill="#000" textLength="14.0" lengthAdjust="spacingAndGlyphs" stroke="#000" stroke-width="0.1">00</text>
<text x="272.0" y="418.1" font-size="11.3" fill="#000" textLength="14.0" lengthAdjust="spacingAndGlyphs" stroke="#000" stroke-width="0.1">06</text>
<text x="302.5" y="418.1" font-size="11.3" fill="#000" textLength="14.0" lengthAdjust="spacingAndGlyphs" stroke="#000" stroke-width="0.1">12</text>
<text x="332.9" y="418.1" font-size="11.3" fill="#000" textLength="14.0" lengthAdjust="spacingAndGlyphs" stroke="#000" stroke-width="0.1">18</text>
<text x="363.4" y="418.1" font-size="11.3" fill="#000" textLength="14.0" lengthAdjust="spacingAndGlyphs" stroke="#000" stroke-width="0.1">00</text>
<text x="393.9" y="418.1" font-size="11.3" fill="#000" textLength="14.0" lengthAdjust="spacingAndGlyphs" stroke="#000" stroke-width="0.1">06</text>
<text x="424.4" y="418.1" font-size="11.3" fill="#000" textLength="14.0" lengthAdjust="spacingAndGlyphs" stroke="#000" stroke-width="0.1">12</text>
<text x="454.9" y="418.1" font-size="11.3" fill="#000" textLength="14.0" lengthAdjust="spacingAndGlyphs" stroke="#000" stroke-width="0.1">18</text>
<text x="485.3" y="418.1" font-size="11.3" fill="#000" textLength="14.0" lengthAdjust="spacingAndGlyphs" stroke="#000" stroke-width="0.1">00</text>
<text x="515.8" y="418.1" font-size="11.3" fill="#000" textLength="14.0" lengthAdjust="spacingAndGlyphs" stroke="#000" stroke-width="0.1">06</text>
<text x="546.3" y="418.1" font-size="11.3" fill="#000" textLength="14.0" lengthAdjust="spacingAndGlyphs" stroke="#000" stroke-width="0.1">12</text>
<text x="576.8" y="418.1" font-size="11.3" fill="#000" textLength="14.0" lengthAdjust="spacingAndGlyphs" stroke="#000" stroke-width="0.1">18</text>
<text x="607.2" y="418.1" font-size="11.3" fill="#000" textLength="14.0" lengthAdjust="spacingAndGlyphs" stroke="#000" stroke-width="0.1">00</text>
<text x="637.7" y="418.1" font-size="11.3" fill="#000" textLength="14.0" lengthAdjust="spacingAndGlyphs" stroke="#000" stroke-width="0.1">06</text>
<text x="668.2" y="418.1" font-size="11.3" fill="#000" textLength="14.0" lengthAdjust="spacingAndGlyphs" stroke="#000" stroke-width="0.1">12</text>
<text x="698.7" y="418.1" font-size="11.3" fill="#000" textLength="14.0" lengthAdjust="spacingAndGlyphs" stroke="#000" stroke-width="0.1">18</text>
<text x="729.2" y="418.1" font-size="11.3" fill="#000" textLength="14.0" lengthAdjust="spacingAndGlyphs" stroke="#000" stroke-width="0.1">00</text>
<text x="759.6" y="418.1" font-size="11.3" fill="#000" textLength="14.0" lengthAdjust="spacingAndGlyphs" stroke="#000" stroke-width="0.1">06</text>
<text x="790.1" y="418.1" font-size="11.3" fill="#000" textLength="14.0" lengthAdjust="spacingAndGlyphs" stroke="#000" stroke-width="0.1">12</text>
<text x="820.6" y="418.1" font-size="11.3" fill="#000" textLength="14.0" lengthAdjust="spacingAndGlyphs" stroke="#000" stroke-width="0.1">18</text>
<text x="851.1" y="418.1" font-size="11.3" fill="#000" textLength="14.0" lengthAdjust="spacingAndGlyphs" stroke="#000" stroke-width="0.1">00</text>
<text x="881.5" y="418.1" font-size="11.3" fill="#000" textLength="14.0" lengthAdjust="spacingAndGlyphs" stroke="#000" stroke-width="0.1">06</text>
<text x="912.0" y="418.1" font-size="11.3" fill="#000" textLength="14.0" lengthAdjust="spacingAndGlyphs" stroke="#000" stroke-width="0.1">12</text>
<text y="438.5" font-size="17.3" fill="#2a2a2a"><tspan x="73.7" textLength="33" lengthAdjust="spacingAndGlyphs">AUG</tspan> <tspan x="116.7" textLength="19.5" lengthAdjust="spacingAndGlyphs">28</tspan></text>
<text y="438.5" font-size="17.3" fill="#2a2a2a"><tspan x="150.2" textLength="33" lengthAdjust="spacingAndGlyphs">AUG</tspan> <tspan x="193.2" textLength="19.5" lengthAdjust="spacingAndGlyphs">29</tspan></text>
<text y="438.5" font-size="17.3" fill="#2a2a2a"><tspan x="272.3" textLength="33" lengthAdjust="spacingAndGlyphs">AUG</tspan> <tspan x="315.3" textLength="19.5" lengthAdjust="spacingAndGlyphs">30</tspan></text>
<text y="438.5" font-size="17.3" fill="#2a2a2a"><tspan x="393.7" textLength="33" lengthAdjust="spacingAndGlyphs">AUG</tspan> <tspan x="436.7" textLength="19.5" lengthAdjust="spacingAndGlyphs">31</tspan></text>
<text y="438.5" font-size="17.3" fill="#2a2a2a"><tspan x="518.4" textLength="31" lengthAdjust="spacingAndGlyphs">SEP</tspan> <tspan x="568.9">1</tspan></text>
<text y="438.5" font-size="17.3" fill="#2a2a2a"><tspan x="640.5" textLength="31" lengthAdjust="spacingAndGlyphs">SEP</tspan> <tspan x="691.0">2</tspan></text>
<text y="438.5" font-size="17.3" fill="#2a2a2a"><tspan x="761.8" textLength="31" lengthAdjust="spacingAndGlyphs">SEP</tspan> <tspan x="812.3">3</tspan></text>
<text y="438.5" font-size="17.3" fill="#2a2a2a"><tspan x="862.9" textLength="31" lengthAdjust="spacingAndGlyphs">SEP</tspan> <tspan x="913.4">4</tspan></text>
<text x="42.0" y="333.3" font-size="13" fill="#000" textLength="163.5" lengthAdjust="spacingAndGlyphs" transform="rotate(-90 42.0 333.3)">Wetstar Fluorescence(V)</text>
<text x="999.8" y="304.4" font-size="13" fill="#f00" textLength="105.5" lengthAdjust="spacingAndGlyphs" transform="rotate(-90 999.8 304.4)">HS2 fl676(NFU)</text>
</svg></body></html>
